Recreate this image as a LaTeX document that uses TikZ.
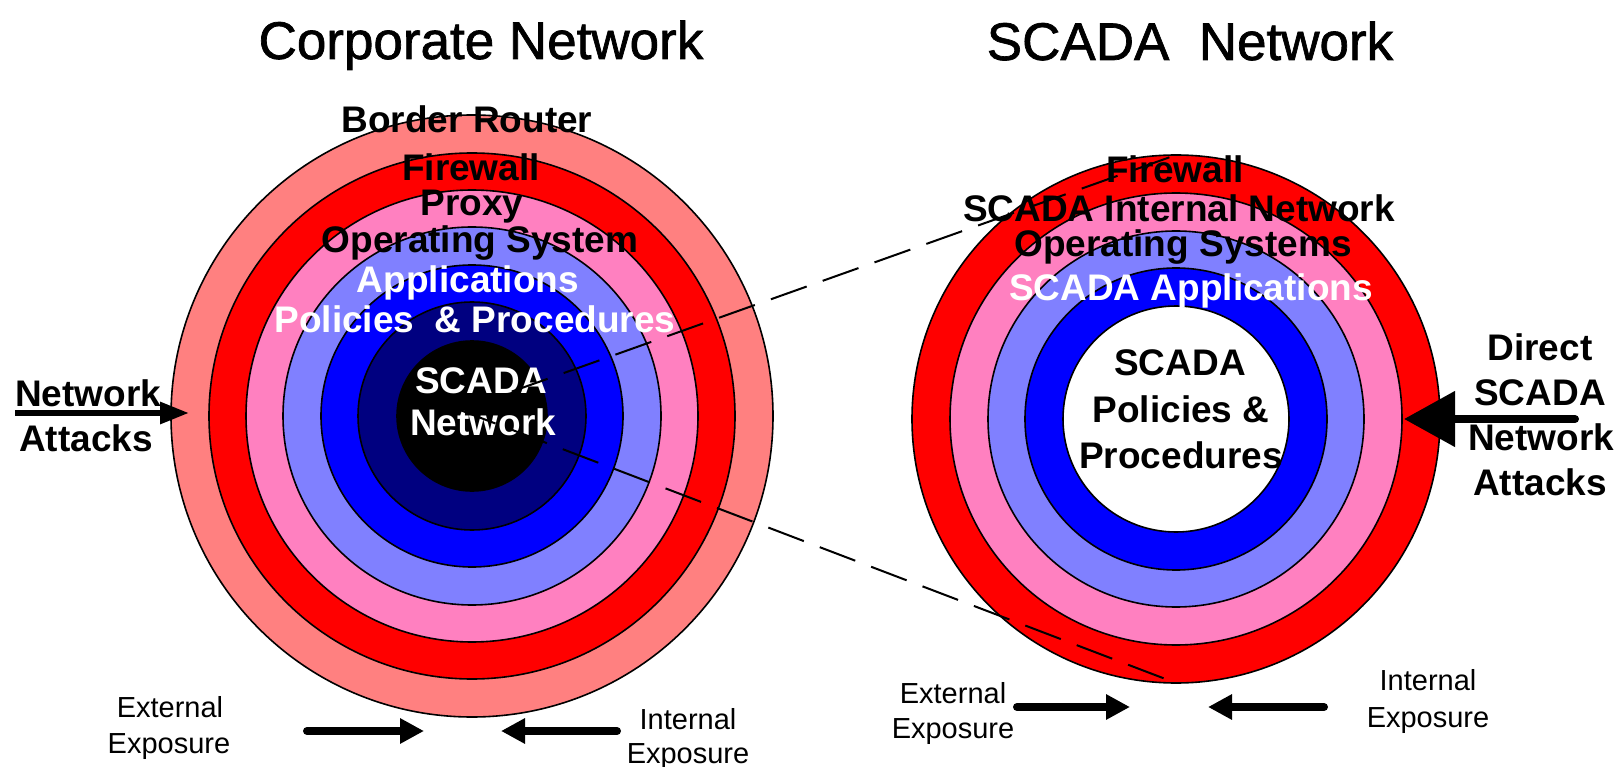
\documentclass[tikz,border=0pt]{standalone}
\usepackage{fontspec}
\setmainfont{Liberation Sans}
\newfontfamily\headfont[FakeBold=1.3]{Liberation Sans}
\usetikzlibrary{arrows.meta}
\definecolor{ringsalmon}{RGB}{255,128,128}
\definecolor{ringred}{RGB}{255,0,0}
\definecolor{ringpink}{RGB}{255,128,192}
\definecolor{ringlav}{RGB}{128,128,255}
\definecolor{ringblue}{RGB}{0,0,255}
\definecolor{ringnavy}{RGB}{0,0,128}

\begin{document}
\begin{tikzpicture}[x=1pt,y=-1pt,
  ring/.style={circle, draw=black, line width=1.6pt, inner sep=0pt, outer sep=0pt, minimum size=#1},
  heading/.style={font=\headfont\fontsize{53}{60}\selectfont, anchor=base, inner sep=0pt},
  lbl/.style={font=\fontsize{37}{44}\selectfont\bfseries, anchor=base, inner sep=0pt},
  wlbl/.style={lbl, text=white},
  note/.style={font=\fontsize{29}{35}\selectfont, anchor=base, inner sep=0pt},
  zoomline/.style={draw=black, line width=2pt, dash pattern=on 38pt off 17pt},
  exparrow/.style={line width=8pt, line cap=round, -{Triangle[length=24pt,width=24pt]}},
]
% canvas
\fill[white] (0,0) rectangle (1620,767);
\useasboundingbox (0,0) rectangle (1620,767);

% ---- corporate network: concentric defence layers ----
\coordinate (cc) at (472,416);
\node[ring=602pt, fill=ringsalmon] (c1) at (cc) {};
\node[ring=526pt, fill=ringred]    (c2) at (cc) {};
\node[ring=452pt, fill=ringpink]   (c3) at (cc) {};
\node[ring=378pt, fill=ringlav]    (c4) at (cc) {};
\node[ring=302pt, fill=ringblue]   (c5) at (cc) {};
\node[ring=228pt, fill=ringnavy]   (c6) at (cc) {};
\node[ring=150pt, fill=black]      (c7) at (cc) {};

% ---- SCADA network: concentric defence layers ----
\coordinate (sc) at (1176,419);
\node[ring=528pt, fill=ringred]  (s1) at (sc) {};
\node[ring=452pt, fill=ringpink] (s2) at (sc) {};
\node[ring=376pt, fill=ringlav]  (s3) at (sc) {};
\node[ring=302pt, fill=ringblue] (s4) at (sc) {};
\node[ring=226pt, fill=white]    (s5) at (sc) {};

% ---- headings ----
\node[heading] (hcorp)  at (481,59) {Corporate Network};
\node[heading] (hscada) at (1190,60) {SCADA\ \ Network};

% ---- corporate layer labels ----
\node[lbl]  (lborder) at (467,133) {Border Router};
\node[lbl]  (lfw)     at (471,181) {Firewall};
\node[lbl]  (lproxy)  at (472,216) {Proxy};
\node[lbl]  (los)     at (480,253) {Operating System};
\node[wlbl] (lapp)    at (468,293) {Applications};
\node[wlbl] (lpol)    at (475,333) {Policies\ \ \& Procedures};
\node[wlbl] (lcore1)  at (481,393) {SCADA};
\node[wlbl] (lcore2)  at (483,435) {Network};

% ---- SCADA layer labels ----
\node[lbl]  (rfw)   at (1175,183) {Firewall};
\node[lbl]  (rnet)  at (1179,222) {SCADA Internal Network};
\node[lbl]  (ros)   at (1183,257) {Operating Systems};
\node[wlbl] (rapp)  at (1191,301) {SCADA Applications};
\node[lbl]  (rpol1) at (1180,375) {SCADA};
\node[lbl]  (rpol2) at (1181,422) {Policies \&};
\node[lbl]  (rpol3) at (1181,468) {Procedures};

% ---- attack labels ----
\node[lbl] (na1) at (88,406) {Network};
\node[lbl] (na2) at (86,451) {Attacks};
\node[lbl] (da1) at (1540,360) {Direct};
\node[lbl] (da2) at (1540,405) {SCADA};
\node[lbl] (da3) at (1541,450) {Network};
\node[lbl] (da4) at (1540,495) {Attacks};

% ---- exposure labels ----
\node[note] (lext1) at (170,717) {External};
\node[note] (lext2) at (169,753) {Exposure};
\node[note] (lint1) at (688,729) {Internal};
\node[note] (lint2) at (688,763) {Exposure};
\node[note] (rext1) at (953,703) {External};
\node[note] (rext2) at (953,738) {Exposure};
\node[note] (rint1) at (1428,690) {Internal};
\node[note] (rint2) at (1428,727) {Exposure};

% ---- zoom cone from the corporate core to the SCADA rings ----
\coordinate (zsrc) at (460,410);
\draw[zoomline] (zsrc) -- (s1.north);
\draw[zoomline] (zsrc) -- (s1.south);

% ---- attack arrows ----
\coordinate (naStart) at (15,413);
\coordinate (naTip)   at (189,413);
\draw[line width=6pt, -{Triangle[length=29pt,width=21pt]}] (naStart) -- (naTip);
\coordinate (daStart) at (1575,419);
\coordinate (daTip)   at (1404,419);
\draw[line width=8pt, line cap=round, -{Triangle[length=51pt,width=54pt]}] (daStart) -- (daTip);

% ---- exposure arrows ----
\coordinate (le0) at (307,731);  \coordinate (le1) at (424,731);
\coordinate (li0) at (617,731);  \coordinate (li1) at (501,731);
\coordinate (re0) at (1017,707); \coordinate (re1) at (1130,707);
\coordinate (ri0) at (1324,707); \coordinate (ri1) at (1208,707);
\draw[exparrow] (le0) -- (le1);
\draw[exparrow] (li0) -- (li1);
\draw[exparrow] (re0) -- (re1);
\draw[exparrow] (ri0) -- (ri1);
\end{tikzpicture}
\end{document}
